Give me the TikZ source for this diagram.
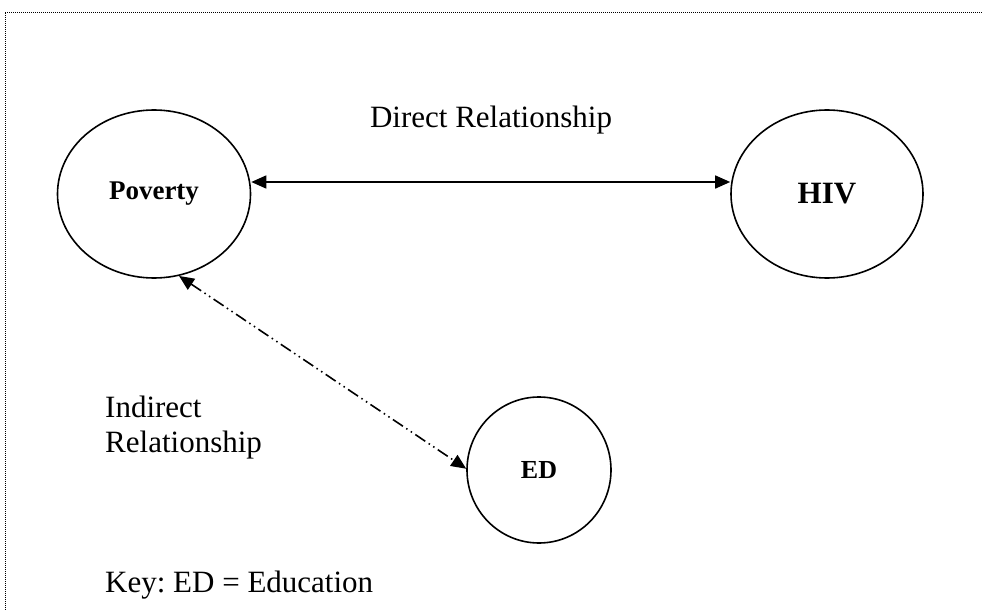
\documentclass[tikz,border=0pt]{standalone}
\usepackage{fontspec}
\setmainfont{Liberation Serif}
\frenchspacing
\usetikzlibrary{shapes.geometric,arrows.meta,positioning}

\begin{document}
\begin{tikzpicture}[x=1pt, y=-1pt, >={Triangle[length=15pt, width=13pt]},
        bubble/.style = {ellipse, draw, line width=1.6pt, inner sep=0pt},
        note/.style = {inner sep=0pt, font=\fontsize{31}{35}\selectfont}]
        \useasboundingbox (0,0) rectangle (983,610);
        % dotted frame (only top and left are seen)
        \draw [line width=0.8pt, dash pattern=on 1pt off 1pt] (5,610) -- (5,12) -- (983,12);

        \node [bubble, minimum width=193pt, minimum height=168pt, font=\fontsize{27}{32}\selectfont\bfseries] (Poverty) at (154,194) {Poverty};
        \node [bubble, minimum width=192pt, minimum height=168pt, font=\fontsize{31}{36}\selectfont\bfseries] (HIV) at (827,194) {HIV};
        \node [bubble, minimum width=144pt, minimum height=146pt, font=\fontsize{26}{30}\selectfont\bfseries] (ED) at (539,470) {ED};

        \draw [<->, line width=1.6pt] ([yshift=12pt]Poverty.east) -- ([yshift=12pt]HIV.west);
        \draw [<->, line width=1.6pt, dash pattern=on 12pt off 4pt on 1.5pt off 4pt on 1.5pt off 4pt] (Poverty.-73) -- (ED.179);

        \node [note, anchor=base] (direct) at (491,127) {Direct Relationship};
        \node [note, anchor=base west, align=left] (indirect) at (105,452) {Indirect\\Relationship};
        \node [note, anchor=base west] (key) at (105,592) {Key: ED = Education};
\end{tikzpicture}
\end{document}
